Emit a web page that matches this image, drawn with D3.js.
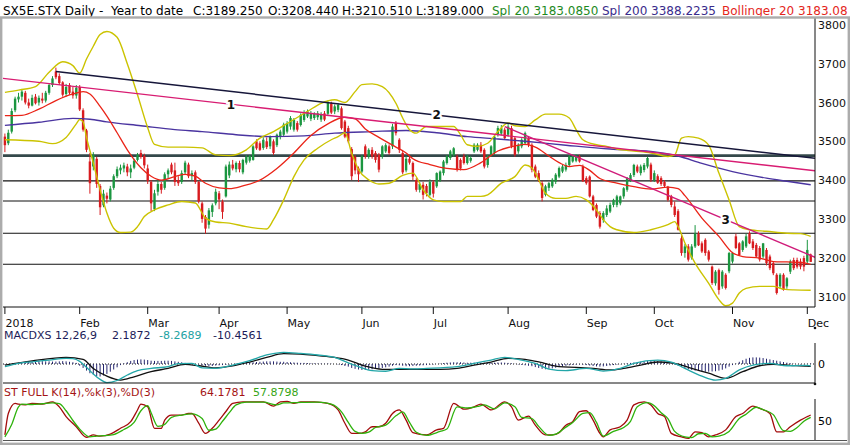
<!DOCTYPE html>
<html>
<head>
<meta charset="utf-8">
<script src="https://cdn.jsdelivr.net/npm/d3@7"></script>
<style>
  body { margin: 0; background: #fff; }
  svg { display: block; font-family: "DejaVu Sans", Verdana, sans-serif; }
</style>
</head>
<body>
<svg id="chart" width="850" height="445"></svg>
<script>
// daily candles, 2 Jan 2018 .. 4 Dec 2018 (trading day index 0..237)
const opens = [
  3512,3495,3525,3580,3608,3615,3625,3600,3592,3615,
  3600,3610,3605,3625,3645,3680,3668,3652,3622,3645,
  3628,3618,3640,3580,3528,3448,3435,3455,3385,3335,
  3360,3350,3380,3410,3425,3430,3435,3420,3432,3452,
  3470,3462,3430,3395,3325,3370,3390,3380,3415,3440,
  3425,3400,3395,3420,3440,3410,3420,3395,3340,3305,
  3285,3318,3340,3366,3345,3358,3412,3440,3428,3444,
  3420,3445,3450,3452,3500,3495,3483,3500,3487,3500,
  3490,3512,3517,3525,3538,3530,3547,3542,3555,3564,
  3558,3560,3562,3556,3572,3571,3598,3577,3581,3585,
  3551,3534,3480,3460,3430,3422,3487,3461,3478,3470,
  3465,3461,3474,3487,3487,3547,3504,3470,3425,3455,
  3444,3400,3375,3388,3385,3362,3395,3384,3400,3418,
  3444,3457,3465,3461,3452,3461,3444,3450,3474,3478,
  3491,3478,3439,3465,3470,3517,3520,3530,3517,3534,
  3508,3474,3487,3495,3508,3491,3435,3418,3392,3362,
  3380,3384,3396,3409,3422,3427,3439,3448,3450,3461,
  3435,3405,3409,3358,3336,3315,3297,3310,3319,3336,
  3336,3340,3358,3375,3400,3413,3435,3418,3426,3435,
  3440,3400,3410,3405,3395,3383,3358,3332,3320,3250,
  3212,3229,3200,3229,3262,3237,3246,3216,3177,3134,
  3168,3126,3156,3165,3190,3255,3237,3220,3229,3263,
  3242,3233,3225,3203,3220,3203,3186,3156,3126,3156,
  3126,3164,3194,3194,3190,3199,3190,3208.44
];
const highs = [
  3520,3530,3585,3615,3625,3635,3630,3610,3620,3622,
  3618,3625,3630,3650,3668,3690,3675,3655,3648,3650,
  3640,3645,3645,3585,3532,3470,3472,3460,3390,3375,
  3368,3385,3415,3435,3440,3445,3442,3440,3455,3470,
  3478,3468,3440,3400,3375,3400,3395,3420,3430,3445,
  3445,3410,3425,3450,3445,3425,3425,3398,3345,3310,
  3328,3340,3378,3372,3350,3440,3448,3452,3448,3450,
  3455,3465,3465,3490,3505,3500,3510,3510,3515,3505,
  3520,3530,3548,3552,3565,3560,3552,3572,3580,3582,
  3578,3575,3578,3575,3578,3605,3602,3595,3598,3590,
  3555,3540,3485,3465,3435,3465,3492,3482,3485,3475,
  3470,3490,3495,3492,3545,3552,3508,3475,3462,3462,
  3448,3405,3395,3395,3390,3402,3400,3420,3425,3452,
  3465,3478,3485,3466,3456,3468,3465,3462,3495,3495,
  3498,3482,3465,3490,3515,3540,3542,3535,3545,3540,
  3512,3495,3508,3525,3512,3495,3440,3425,3398,3388,
  3395,3405,3418,3435,3440,3445,3465,3465,3466,3465,
  3440,3410,3412,3362,3340,3320,3320,3335,3342,3352,
  3362,3360,3382,3408,3418,3442,3440,3440,3444,3460,
  3445,3425,3415,3410,3400,3385,3362,3345,3325,3258,
  3235,3235,3235,3284,3268,3242,3250,3220,3180,3168,
  3172,3168,3160,3215,3215,3262,3240,3245,3262,3268,
  3248,3238,3230,3238,3225,3208,3190,3160,3160,3160,
  3150,3195,3200,3200,3198,3205,3246,3210.51
];
const lows = [
  3472,3490,3520,3575,3600,3605,3595,3585,3590,3595,
  3592,3598,3600,3620,3640,3660,3645,3615,3615,3620,
  3610,3610,3578,3525,3472,3365,3425,3380,3310,3330,
  3340,3345,3375,3405,3415,3420,3410,3405,3428,3448,
  3455,3430,3390,3320,3320,3360,3365,3375,3405,3415,
  3385,3385,3390,3415,3405,3400,3390,3340,3290,3262,
  3275,3305,3335,3325,3300,3355,3405,3425,3420,3420,
  3415,3440,3445,3450,3478,3475,3478,3480,3480,3465,
  3485,3505,3512,3520,3530,3525,3525,3538,3550,3560,
  3552,3555,3555,3550,3552,3565,3570,3570,3575,3530,
  3508,3495,3400,3415,3395,3418,3455,3455,3455,3445,
  3420,3455,3470,3465,3480,3515,3470,3415,3420,3440,
  3400,3370,3368,3350,3358,3358,3355,3380,3395,3412,
  3440,3452,3460,3422,3425,3440,3440,3445,3470,3474,
  3470,3430,3432,3460,3465,3512,3515,3505,3512,3482,
  3460,3468,3482,3490,3485,3420,3405,3395,3345,3358,
  3372,3380,3390,3405,3418,3422,3435,3445,3446,3445,
  3395,3388,3355,3320,3302,3275,3290,3305,3315,3330,
  3330,3335,3352,3370,3395,3408,3418,3412,3420,3430,
  3395,3395,3390,3385,3380,3345,3330,3305,3270,3205,
  3200,3190,3195,3225,3230,3212,3205,3190,3130,3128,
  3105,3120,3118,3160,3185,3222,3205,3215,3225,3235,
  3220,3200,3190,3198,3180,3168,3155,3105,3120,3115,
  3120,3158,3168,3172,3170,3165,3185,3189
];
const closes = [
  3490,3522,3578,3610,3615,3628,3600,3592,3612,3598,
  3612,3605,3625,3645,3662,3665,3650,3620,3640,3625,
  3618,3638,3582,3530,3478,3392,3465,3390,3330,3365,
  3352,3378,3410,3428,3432,3438,3420,3430,3450,3465,
  3460,3438,3398,3340,3366,3390,3375,3415,3425,3420,
  3395,3392,3418,3445,3410,3418,3395,3345,3300,3275,
  3322,3335,3370,3350,3318,3435,3440,3430,3444,3428,
  3452,3460,3462,3487,3482,3478,3504,3485,3512,3470,
  3517,3525,3543,3547,3560,3555,3530,3568,3572,3577,
  3572,3572,3572,3570,3556,3600,3574,3590,3594,3534,
  3512,3500,3410,3425,3415,3461,3461,3478,3461,3452,
  3427,3487,3490,3470,3538,3521,3478,3420,3455,3445,
  3409,3375,3390,3362,3366,3395,3365,3418,3422,3448,
  3461,3474,3482,3427,3430,3444,3461,3457,3491,3491,
  3474,3435,3461,3487,3512,3534,3534,3508,3538,3487,
  3465,3491,3504,3521,3491,3427,3409,3400,3354,3384,
  3392,3401,3414,3431,3435,3439,3461,3461,3462,3448,
  3397,3392,3358,3323,3306,3280,3315,3327,3336,3349,
  3358,3358,3379,3405,3413,3439,3422,3435,3439,3457,
  3401,3418,3393,3390,3385,3349,3336,3310,3272,3212,
  3229,3195,3229,3262,3232,3216,3212,3195,3135,3164,
  3117,3164,3122,3212,3212,3225,3207,3242,3255,3237,
  3225,3203,3195,3237,3186,3173,3160,3109,3156,3117,
  3147,3190,3173,3177,3177,3177,3220,3189.25
];

// indicator lines as [day index, value]
const sma20 = [[0,3566],[5,3567],[10,3583],[15,3605],[20,3622],[23,3628],[25,3622],[28,3590],[30,3565],[33,3522],[36,3478],[40,3432],[43,3410],[46,3400],[50,3409],[53,3415],[56,3410],[59,3392],[63,3380],[66,3378],[70,3385],[75,3400],[80,3430],[85,3470],[90,3515],[95,3545],[100,3562],[103,3558],[106,3532],[110,3510],[115,3485],[118,3470],[120,3455],[125,3440],[130,3430],[135,3427],[140,3445],[145,3475],[150,3488],[153,3492],[156,3485],[160,3462],[163,3445],[166,3435],[169,3438],[172,3425],[175,3404],[180,3392],[185,3383],[190,3377],[195,3382],[198,3378],[200,3360],[205,3302],[210,3255],[214,3213],[217,3203],[222,3199],[226,3190],[230,3189],[234,3188],[237,3183]];
const sma200 = [[0,3541],[10,3549],[20,3559],[25,3557],[30,3550],[40,3540],[50,3530],[58,3525],[68,3517],[78,3512],[88,3514],[97,3521],[108,3525],[118,3528],[127,3522],[136,3512],[145,3506],[153,3500],[165,3490],[178,3480],[190,3474],[198,3462],[205,3443],[214,3422],[224,3405],[230,3397],[237,3388]];
const bandUpper = [[0,3626],[4,3632],[9,3641],[13,3678],[17,3705],[20,3695],[22,3676],[24,3712],[26,3745],[28,3775],[30,3783],[33,3768],[36,3700],[39,3620],[42,3535],[44,3492],[48,3485],[53,3485],[58,3483],[62,3465],[66,3463],[71,3478],[75,3508],[79,3525],[84,3551],[89,3577],[93,3598],[97,3607],[100,3600],[103,3628],[105,3646],[108,3648],[111,3641],[115,3598],[117,3560],[119,3530],[121,3521],[124,3538],[127,3538],[132,3538],[134,3517],[136,3491],[139,3487],[142,3495],[145,3525],[148,3547],[150,3540],[153,3538],[156,3555],[159,3570],[163,3570],[166,3560],[168,3530],[170,3504],[174,3491],[177,3487],[180,3480],[185,3475],[190,3470],[195,3461],[197,3465],[199,3508],[201,3512],[204,3508],[207,3490],[210,3418],[213,3349],[216,3280],[219,3272],[224,3268],[230,3263],[234,3262],[237,3255]];
const bandLower = [[0,3504],[10,3500],[14,3494],[18,3510],[21,3545],[22,3556],[23,3550],[24,3510],[26,3444],[28,3375],[30,3315],[32,3276],[34,3265],[37,3266],[39,3280],[41,3306],[44,3323],[48,3336],[52,3345],[56,3341],[59,3302],[62,3292],[66,3289],[71,3280],[77,3274],[79,3298],[82,3349],[85,3409],[88,3452],[92,3482],[96,3504],[98,3512],[100,3522],[102,3469],[104,3427],[107,3401],[110,3390],[113,3392],[117,3412],[120,3418],[123,3375],[126,3349],[129,3345],[134,3345],[136,3358],[140,3358],[142,3362],[146,3392],[150,3409],[153,3439],[155,3431],[157,3401],[159,3366],[162,3353],[165,3353],[168,3358],[171,3349],[174,3323],[176,3298],[178,3280],[180,3272],[185,3265],[190,3272],[195,3285],[197,3293],[198,3280],[200,3238],[203,3186],[207,3134],[210,3092],[212,3076],[214,3083],[216,3109],[218,3121],[222,3126],[226,3126],[229,3119],[232,3117],[237,3116]];

// drawn trend lines [day index, price] and horizontal levels
const trend1 = [[-1.4,3663],[238.3,3424]];
const trend2 = [[15,3680],[238.3,3456]];
const trend3 = [[147,3538],[238.3,3201]];
const trendLabels = [['1', 66.5, trend1], ['2', 127, trend2], ['3', 212, trend3]];
const levels = [3463, 3398, 3346, 3263, 3183];

// MACD 12,26,9
const macdLine = [[0,-12],[4,3],[8,10],[13,18],[18,26],[20,24],[22,12],[24,-15],[26,-45],[28,-70],[30,-85],[33,-75],[36,-50],[39,-30],[43,-20],[48,-12],[51,2],[55,3],[58,-18],[62,-20],[67,-5],[72,15],[77,41],[82,53],[87,48],[92,41],[97,30],[101,5],[104,-12],[108,-30],[112,-33],[116,-20],[120,-22],[124,-20],[133,-12],[138,3],[143,18],[147,30],[151,21],[156,3],[160,-23],[165,-30],[171,-20],[176,-32],[181,-20],[185,3],[192,18],[196,9],[200,-20],[205,-55],[209,-73],[212,-65],[216,-27],[220,-5],[225,3],[230,-8],[236,-6],[237,-8.27]];
const macdSignal = [[0,-5],[8,14],[18,30],[23,21],[26,-20],[30,-55],[34,-73],[38,-58],[43,-35],[48,-20],[53,-2],[57,-8],[62,-18],[67,-9],[72,9],[77,30],[82,47],[87,45],[92,38],[97,30],[101,18],[106,-10],[111,-24],[116,-24],[124,-24],[128,-24],[133,-20],[138,-5],[143,9],[148,26],[153,21],[158,6],[163,-12],[168,-15],[173,-20],[178,-27],[182,-20],[187,-5],[192,9],[197,3],[202,-20],[207,-42],[212,-65],[217,-35],[222,-8],[226,-2],[231,-6],[236,-10],[237,-10.46]];
const macdHist = [
  -3,-2,0,3,6,8,10,11,12,12,13,13,12,12,11,11,12,13,12,10,8,5,
  -8,-18,-30,-42,-48,-55,-57,-52,-45,-35,-25,-15,-5,3,8,14,18,20,21,20,18,15,14,14,14,15,15,14,12,10,8,
  5,4,2,0,-2,-5,-8,-10,-9,-7,
  -6,-5,-4,-2,0,2,4,5,6,7,
  8,9,10,11,12,12,12,11,10,10,9,8,7,6,5,5,4,3,3,2,2,1,2,
  1,0,-2,-5,-9,-12,-18,-22,-25,
  -27,-27,-26,-24,-22,-20,-18,-15,-12,-8,-5,-6,-8,-10,-10,-9,-8,-7,-6,-5,-3,
  -2,0,2,4,6,7,8,8,8,7,6,6,6,6,6,6,5,5,6,7,7,6,
  5,3,1,-2,-4,-6,-8,-10,-14,-18,-22,-24,-22,-20,-17,-14,-11,-8,-6,-4,-3,-2,-3,
  -5,-7,-9,-11,-12,-11,-9,-7,-5,-3,-1,1,3,5,7,8,10,12,13,14,
  14,13,12,10,6,2,-3,-8,-14,-20,-24,-27,-30,-32,-34,-35,-35,-34,-33,-30,-26,-20,-12,
  -5,2,10,17,24,28,30,30,29,27,24,21,18,15,12,9,6,3,1,-1,-2,-1,1,2.19
];

// Stochastic full 14,3,3
const stochK = [[0,13],[1,68],[3,94],[4,92],[6,90],[8,94],[11,92],[14,98],[16,85],[18,60],[21,34],[24,7],[26,13],[28,10],[31,15],[34,30],[37,47],[39,77],[40,92],[42,85],[44,30],[46,30],[47,51],[49,64],[52,64],[54,68],[55,68],[57,43],[59,17],[61,30],[63,51],[65,73],[67,94],[70,98],[73,98],[76,98],[79,87],[81,98],[83,99],[85,94],[87,98],[91,98],[95,94],[98,77],[100,43],[102,17],[104,17],[106,21],[108,34],[110,34],[112,43],[114,68],[116,77],[118,51],[120,19],[124,13],[127,26],[129,30],[132,94],[135,79],[138,85],[140,92],[143,77],[147,98],[149,85],[151,51],[154,61],[156,38],[159,13],[161,13],[163,19],[165,38],[167,47],[169,73],[171,75],[173,51],[175,17],[176,8],[178,26],[181,34],[183,51],[185,90],[188,98],[190,90],[192,68],[194,60],[196,17],[199,8],[201,4],[203,21],[205,19],[207,8],[209,13],[212,26],[215,60],[217,68],[220,87],[222,81],[225,68],[227,21],[229,21],[231,34],[234,51],[236,60],[237,64.18]];
const stochD = [[0,8],[2,40],[4,85],[5,92],[8,91],[11,93],[14,95],[16,93],[18,75],[20,50],[22,28],[25,8],[27,10],[29,11],[32,14],[35,27],[38,45],[40,75],[42,88],[43,70],[45,35],[47,40],[49,58],[52,64],[55,67],[58,55],[60,25],[62,28],[64,48],[66,70],[68,90],[71,97],[76,97],[80,90],[82,95],[86,96],[92,97],[96,92],[99,72],[101,45],[103,22],[105,17],[107,20],[109,32],[112,38],[115,62],[117,72],[119,45],[121,20],[124,12],[128,22],[130,28],[133,85],[136,82],[139,86],[141,90],[144,80],[147,95],[150,85],[152,58],[155,55],[157,35],[160,12],[162,15],[165,33],[167,45],[170,68],[172,70],[174,45],[176,10],[179,22],[182,32],[184,48],[186,85],[189,96],[191,88],[193,70],[195,55],[197,22],[200,8],[202,6],[204,16],[206,17],[208,8],[210,10],[213,22],[216,55],[218,66],[221,84],[223,78],[226,65],[229,24],[231,22],[233,32],[235,48],[237,57.88]];

const monthStarts = [0,22,42,63,83,105,126,148,171,191,214,236];
const monthLabels = ['2018','Feb','Mar','Apr','May','Jun','Jul','Aug','Sep','Oct','Nov','Dec'];
const priceTicks = [3100,3200,3300,3400,3500,3600,3700,3800];

const header = [
  [3, 'SX5E.STX Daily -', '#000'], [111, 'Year to date', '#000'],
  [193, 'C:3189.250', '#000'], [268, 'O:3208.440', '#000'], [342, 'H:3210.510', '#000'], [416, 'L:3189.000', '#000'],
  [492, 'Spl 20 3183.0850', '#1e8a1e'], [602, 'Spl 200 3388.2235', '#3a2c8c'], [722, 'Bollinger 20 3183.08', '#e4261c']
];
const macdTitle = [[4, 'MACDXS 12,26,9', '#1c1c58'], [112, '2.1872', '#1c1c58'], [159, '-8.2689', '#22a2a2'], [213, '-10.4561', '#1c1c58']];
const stochTitle = [[4, 'ST FULL K(14),%k(3),%D(3)', '#a41414'], [200, '64.1781', '#a41414'], [253, '57.8798', '#36a516']];

// ---------------------------------------------------------------
const svg = d3.select('#chart');
const W = 850, H = 445;
const left = 3, right = 815;
const mainTop = 18, mainBottom = 307;

const x = d3.scaleLinear().domain([0, 237]).range([4.9, 810.7]);
const y = d3.scaleLinear().domain([3100, 3800]).range([296.5, 24.9]);
const yM = d3.scaleLinear().domain([-90, 90]).range([383.8, 344.2]);
const yS = d3.scaleLinear().domain([0, 100]).range([440, 401]);

svg.append('rect').attr('width', W).attr('height', H).attr('fill', '#fff');

const defs = svg.append('defs');
defs.append('clipPath').attr('id', 'clipMain')
  .append('rect').attr('x', left).attr('y', mainTop).attr('width', right - left).attr('height', mainBottom - mainTop);
defs.append('clipPath').attr('id', 'clipLow')
  .append('rect').attr('x', left).attr('y', 340).attr('width', right - left).attr('height', 100);

// header
svg.append('g').selectAll('text').data(header).join('text')
  .attr('x', d => d[0]).attr('y', 14.5)
  .attr('font-size', 12).attr('fill', d => d[2])
  .text(d => d[1]);

// ---- main panel
const main = svg.append('g').attr('clip-path', 'url(#clipMain)');

main.append('g').selectAll('line').data(levels).join('line')
  .attr('x1', left).attr('x2', right)
  .attr('y1', d => y(d)).attr('y2', d => y(d))
  .attr('stroke', (d, i) => i === 0 ? '#34484a' : '#111')
  .attr('stroke-width', (d, i) => i === 0 ? 2.6 : 1.1);

const days = d3.range(closes.length);
const candle = main.append('g').selectAll('g').data(days).join('g')
  .attr('stroke', i => closes[i] >= opens[i] ? '#1b9640' : '#d81b1f')
  .attr('fill', i => closes[i] >= opens[i] ? '#1b9640' : '#d81b1f');
candle.append('line')
  .attr('x1', i => x(i)).attr('x2', i => x(i))
  .attr('y1', i => y(highs[i])).attr('y2', i => y(lows[i]))
  .attr('stroke-width', 1);
candle.append('rect')
  .attr('stroke', 'none')
  .attr('x', i => x(i) - 1.2).attr('width', 2.4)
  .attr('y', i => y(Math.max(opens[i], closes[i])))
  .attr('height', i => Math.max(1, Math.abs(y(opens[i]) - y(closes[i]))));

const priceLine = d3.line().x(d => x(d[0])).y(d => y(d[1])).curve(d3.curveMonotoneX);
const straight = d3.line().x(d => x(d[0])).y(d => y(d[1]));

main.append('path').datum(sma200).attr('d', priceLine)
  .attr('fill', 'none').attr('stroke', '#4a34a0').attr('stroke-width', 1.4);
[bandUpper, bandLower].forEach(b => {
  main.append('path').datum(b).attr('d', priceLine)
    .attr('fill', 'none').attr('stroke', '#cbc300').attr('stroke-width', 1.4);
});
main.append('path').datum(sma20).attr('d', priceLine)
  .attr('fill', 'none').attr('stroke', '#ea2418').attr('stroke-width', 1.3);

main.append('path').datum(trend1).attr('d', straight)
  .attr('fill', 'none').attr('stroke', '#d81c72').attr('stroke-width', 1.4);
main.append('path').datum(trend3).attr('d', straight)
  .attr('fill', 'none').attr('stroke', '#d01c7a').attr('stroke-width', 1.4);
main.append('path').datum(trend2).attr('d', straight)
  .attr('fill', 'none').attr('stroke', '#16163a').attr('stroke-width', 1.5);

main.append('g').selectAll('text').data(trendLabels).join('text')
  .attr('x', d => x(d[1]))
  .attr('y', d => {
    const t = d[2];
    const at = d3.scaleLinear().domain([t[0][0], t[1][0]]).range([t[0][1], t[1][1]]);
    return y(at(d[1]));
  })
  .attr('dy', '0.35em')
  .attr('text-anchor', 'middle')
  .attr('font-size', 12).attr('font-weight', 'bold')
  .attr('fill', '#111')
  .attr('stroke', '#fff').attr('stroke-width', 4).attr('paint-order', 'stroke')
  .text(d => d[0]);

// price axis
const yAxis = d3.axisRight(y).tickValues(priceTicks).tickSize(0).tickPadding(3).tickFormat(d3.format('d'));
svg.append('g').attr('transform', `translate(${right},0)`).call(yAxis)
  .attr('font-family', null).attr('font-size', 11)
  .call(g => g.select('.domain').remove())
  .call(g => g.selectAll('text').attr('fill', '#111'));
svg.append('line').attr('x1', right).attr('x2', right).attr('y1', mainTop).attr('y2', mainBottom)
  .attr('stroke', '#111');
svg.append('line').attr('x1', left).attr('x2', right).attr('y1', mainBottom).attr('y2', mainBottom)
  .attr('stroke', '#111');

// month axis
const months = svg.append('g');
months.selectAll('line').data(monthStarts).join('line')
  .attr('x1', d => x(d)).attr('x2', d => x(d))
  .attr('y1', mainBottom).attr('y2', mainBottom + 7)
  .attr('stroke', '#111');
months.selectAll('text').data(monthStarts).join('text')
  .attr('x', d => x(d) + 0.5).attr('y', 327)
  .attr('font-size', 11).attr('fill', '#111')
  .text((d, i) => monthLabels[i]);

// ---- MACD panel
svg.append('g').selectAll('text').data(macdTitle).join('text')
  .attr('x', d => d[0]).attr('y', 339)
  .attr('font-size', 11).attr('fill', d => d[2])
  .text(d => d[1]);

const low = svg.append('g').attr('clip-path', 'url(#clipLow)');
low.append('line').attr('x1', left).attr('x2', right).attr('y1', yM(0)).attr('y2', yM(0))
  .attr('stroke', '#111').attr('stroke-dasharray', '1,2');
low.append('g').selectAll('line').data(macdHist).join('line')
  .attr('x1', (d, i) => x(i)).attr('x2', (d, i) => x(i))
  .attr('y1', yM(0)).attr('y2', d => yM(d))
  .attr('stroke', '#26266e').attr('stroke-width', 1);
const macdPath = d3.line().x(d => x(d[0])).y(d => yM(d[1])).curve(d3.curveMonotoneX);
low.append('path').datum(macdSignal).attr('d', macdPath)
  .attr('fill', 'none').attr('stroke', '#111').attr('stroke-width', 1.3);
low.append('path').datum(macdLine).attr('d', macdPath)
  .attr('fill', 'none').attr('stroke', '#23a6a8').attr('stroke-width', 1.3);

svg.append('line').attr('x1', right).attr('x2', right).attr('y1', 343).attr('y2', 383).attr('stroke', '#111');
svg.append('line').attr('x1', left).attr('x2', right).attr('y1', 383).attr('y2', 383).attr('stroke', '#111');
svg.append('circle').attr('cx', right).attr('cy', 384).attr('r', 1.3).attr('fill', '#111');
svg.append('circle').attr('cx', right).attr('cy', 328).attr('r', 1.3).attr('fill', '#111');
const mAxis = d3.axisRight(yM).tickValues([0]).tickSize(0).tickPadding(3);
svg.append('g').attr('transform', `translate(${right},0)`).call(mAxis)
  .attr('font-family', null).attr('font-size', 11)
  .call(g => g.select('.domain').remove());

// ---- Stochastic panel
svg.append('g').selectAll('text').data(stochTitle).join('text')
  .attr('x', d => d[0]).attr('y', 396)
  .attr('font-size', 11).attr('fill', d => d[2])
  .text(d => d[1]);

const stochPath = d3.line().x(d => x(d[0])).y(d => yS(d[1])).curve(d3.curveMonotoneX);
low.append('path').datum(stochK).attr('d', stochPath)
  .attr('fill', 'none').attr('stroke', '#a30c0c').attr('stroke-width', 1.3);
low.append('path').datum(stochD).attr('d', stochPath)
  .attr('fill', 'none').attr('stroke', '#2eb20c').attr('stroke-width', 1.3);

svg.append('line').attr('x1', right).attr('x2', right).attr('y1', 399).attr('y2', 440).attr('stroke', '#111');
svg.append('line').attr('x1', left).attr('x2', 847).attr('y1', 440.5).attr('y2', 440.5).attr('stroke', '#555');
const sAxis = d3.axisRight(yS).tickValues([50]).tickSize(0).tickPadding(3);
svg.append('g').attr('transform', `translate(${right},0)`).call(sAxis)
  .attr('font-family', null).attr('font-size', 11)
  .call(g => g.select('.domain').remove());

// frame around the panels (header sits above it)
svg.append('rect').attr('x', 1.2).attr('y', 17.5).attr('width', W - 2.4).attr('height', H - 18.7)
  .attr('fill', 'none').attr('stroke', '#acacac').attr('stroke-width', 2.4);
</script>
</body>
</html>
